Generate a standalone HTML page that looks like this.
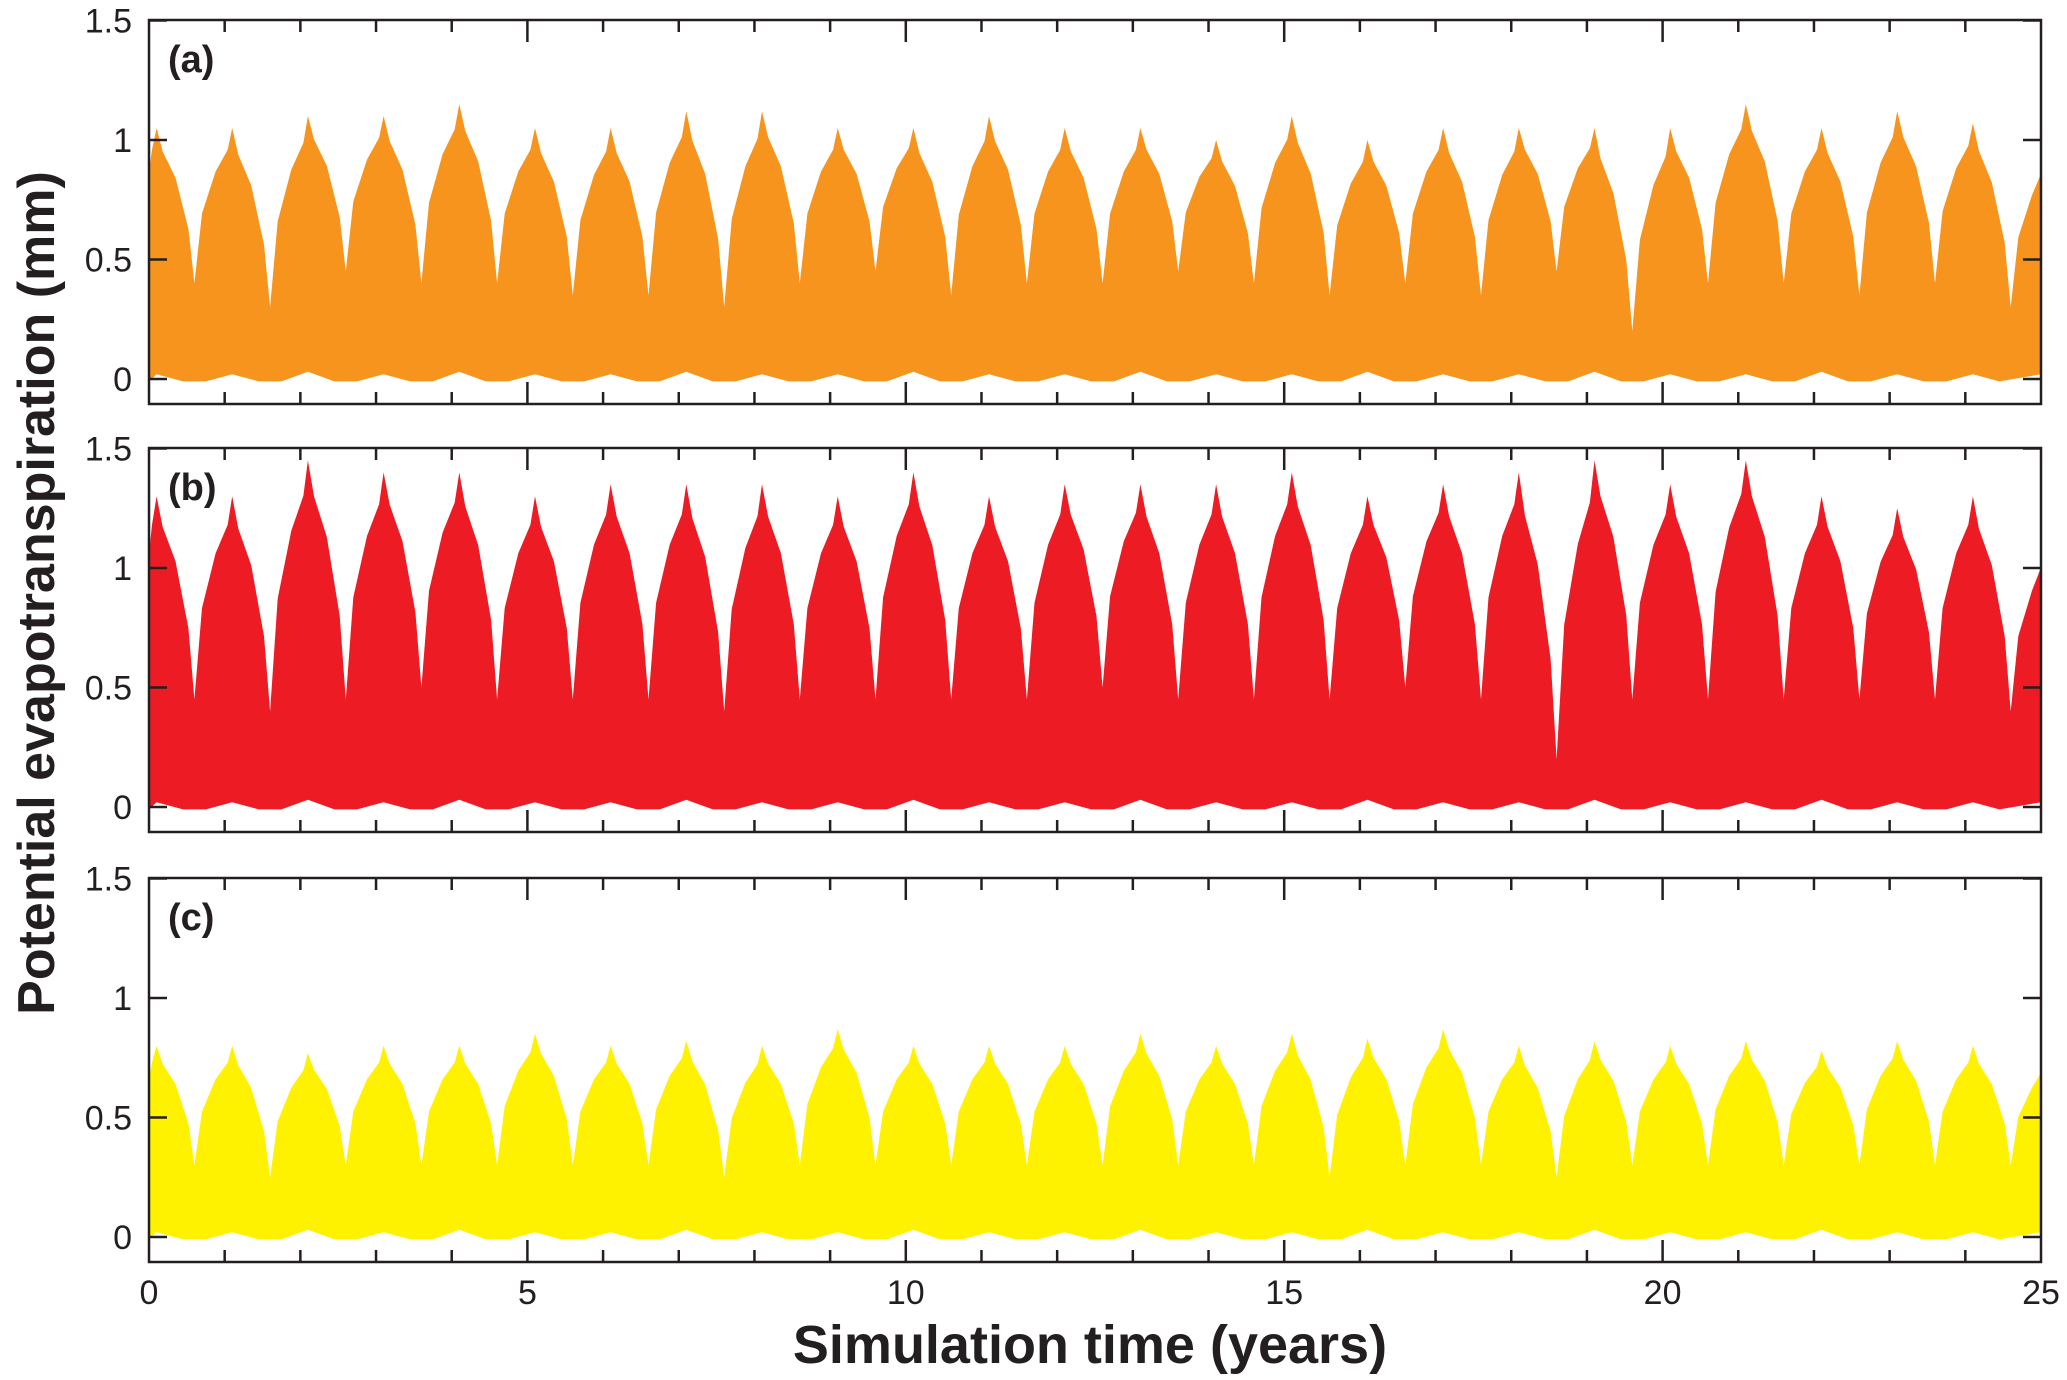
<!DOCTYPE html>
<html><head><meta charset="utf-8">
<style>
html,body{margin:0;padding:0;background:#fff;}
svg{display:block;font-family:"Liberation Sans",Arial,sans-serif;}
</style></head>
<body>
<svg id="chart" width="2067" height="1380" viewBox="0 0 2067 1380" xmlns="http://www.w3.org/2000/svg">
<text x="0" y="0" transform="translate(54,593) rotate(-90)" text-anchor="middle" font-size="52" font-weight="bold" fill="#231f20">Potential evapotranspiration (mm)</text>
<text x="1090" y="1363" text-anchor="middle" font-size="54" font-weight="bold" fill="#231f20">Simulation time (years)</text>
</svg>
<script>
// ---- data (per-year envelope) ----
const years = [0,1,2,3,4,5,6,7,8,9,10,11,12,13,14,15,16,17,18,19,20,21,22,23,24,25];
const peaksA = [1.05,1.05,1.1,1.1,1.15,1.05,1.05,1.12,1.12,1.05,1.05,1.1,1.05,1.05,1.0,1.1,1.0,1.05,1.05,1.05,1.05,1.15,1.05,1.12,1.07,0.95];
const troughsA = [0.4,0.3,0.45,0.4,0.4,0.35,0.35,0.3,0.4,0.45,0.35,0.4,0.4,0.45,0.4,0.35,0.4,0.35,0.45,0.2,0.4,0.4,0.35,0.4,0.3];
const peaksB = [1.3,1.3,1.45,1.4,1.4,1.3,1.35,1.35,1.35,1.3,1.4,1.3,1.35,1.35,1.35,1.4,1.3,1.35,1.4,1.45,1.35,1.45,1.3,1.25,1.3,1.1];
const troughsB = [0.45,0.4,0.45,0.5,0.45,0.45,0.45,0.4,0.45,0.45,0.45,0.45,0.5,0.45,0.45,0.45,0.5,0.45,0.2,0.45,0.45,0.45,0.45,0.45,0.4];
const peaksC = [0.8,0.8,0.77,0.8,0.8,0.85,0.8,0.82,0.8,0.87,0.8,0.8,0.8,0.85,0.8,0.85,0.83,0.87,0.8,0.82,0.8,0.82,0.78,0.82,0.8,0.75];
const troughsC = [0.3,0.25,0.3,0.3,0.3,0.3,0.3,0.25,0.3,0.3,0.3,0.3,0.3,0.3,0.3,0.25,0.3,0.3,0.25,0.3,0.3,0.3,0.3,0.3,0.3];
const lowPeak = [0.02,0.02,0.03,0.02,0.03,0.02,0.02,0.03,0.02,0.02,0.03,0.02,0.02,0.03,0.02,0.02,0.03,0.02,0.02,0.03,0.02,0.02,0.03,0.02,0.02,0.02];
const lowTrough = -0.01;
const xTickLabels = ["0","5","10","15","20","25"];
const yTickLabels = ["0","0.5","1","1.5"];
const yTickValues = [0,0.5,1,1.5];
const panelLabels = ["(a)","(b)","(c)"];
const panelColors = ["#f7941d","#ed1c24","#fff200"];

const NS = "http://www.w3.org/2000/svg";
const svg = document.getElementById('chart');
const L = 149, R = 2041;
const panelTops = [20, 448, 878];
const PH = 384, Y0OFF = 359;
const UNIT = 239;
const xScale = t => Math.max(L, Math.min(R, L + (R - L) * t / 25));
function mk(tag, attrs){const e=document.createElementNS(NS,tag);for(const k in attrs)e.setAttribute(k,attrs[k]);return e;}

const series = [[peaksA,troughsA],[peaksB,troughsB],[peaksC,troughsC]];
series.forEach((s, p) => {
  const top = panelTops[p];
  const yScale = v => top + Y0OFF - v * UNIT;
  const g = mk('g', {});
  
  
  svg.appendChild(g);
  const clip = mk('clipPath', {id: 'clip' + p});
  clip.appendChild(mk('rect', {x: L, y: top, width: R - L, height: PH}));
  g.appendChild(clip);
  const pk = s[0], tr = s[1];
  let up = [];
  for (let k = 0; k <= 25; k++) {
    const tPrev = k > 0 ? tr[k - 1] : tr[0];
    const tNext = k < 25 ? tr[k] : tr[24];
    const P = pk[k], c = years[k] + 0.1;
    up.push([xScale(c - 0.4), yScale(tPrev + 0.45 * (P - tPrev))]);
    up.push([xScale(c - 0.22), yScale(tPrev + 0.72 * (P - tPrev))]);
    up.push([xScale(c - 0.06), yScale(tPrev + 0.86 * (P - tPrev))]);
    up.push([xScale(c), yScale(P)]);
    up.push([xScale(c + 0.08), yScale(tNext + 0.85 * (P - tNext))]);
    up.push([xScale(c + 0.25), yScale(tNext + 0.68 * (P - tNext))]);
    up.push([xScale(c + 0.42), yScale(tNext + 0.35 * (P - tNext))]);
    if (k < 25) up.push([xScale(years[k] + 0.6), yScale(tNext)]);
  }
  up.unshift([xScale(0), yScale(pk[0])]);
  up.push([xScale(25), yScale(pk[25])]);
  let lo = [[xScale(25), yScale(lowPeak[25])]];
  for (let k = 24; k >= 0; k--) {
    lo.push([xScale(years[k] + 0.45), yScale(lowTrough)]);
    lo.push([xScale(years[k] + 0.1), yScale(lowPeak[k])]);
    lo.push([xScale(years[k] - 0.25), yScale(lowTrough)]);
  }
  lo.push([xScale(0), yScale(lowPeak[0])]);
  const pts = up.concat(lo).map(q => q[0].toFixed(1) + ',' + q[1].toFixed(1)).join(' ');
  const poly = mk('polygon', {points: pts, fill: panelColors[p], 'clip-path': 'url(#clip' + p + ')'});
  
  
  g.appendChild(poly);
  const box = mk('rect', {x: L, y: top, width: R - L, height: PH, fill: 'none', stroke: '#231f20', 'stroke-width': 2.5});
  
  
  g.appendChild(box);
  for (let t = 1; t < 25; t++) {
    const len = t % 5 === 0 ? 22 : 12;
    const x = xScale(t);
    const a = mk('line', {x1: x, x2: x, y1: top + PH, y2: top + PH - len, stroke: '#231f20', 'stroke-width': 2.5});
    
    
    g.appendChild(a);
    const b = mk('line', {x1: x, x2: x, y1: top, y2: top + len, stroke: '#231f20', 'stroke-width': 2.5});
    
    
    g.appendChild(b);
  }
  yTickValues.forEach((v, i) => {
    const y = yScale(v);
    const a = mk('line', {x1: L, x2: L + 18, y1: y, y2: y, stroke: '#231f20', 'stroke-width': 2.5});
    
    
    g.appendChild(a);
    const b = mk('line', {x1: R, x2: R - 18, y1: y, y2: y, stroke: '#231f20', 'stroke-width': 2.5});
    
    
    g.appendChild(b);
    const tx = mk('text', {x: L - 17, y: y + 12, 'text-anchor': 'end', 'font-size': 34, fill: '#231f20'});
    
    
    tx.textContent = yTickLabels[i];
    g.appendChild(tx);
  });
  const lab = mk('text', {x: 168, y: top + 52, 'font-size': 38, 'font-weight': 'bold', fill: '#231f20'});
  
  
  lab.textContent = panelLabels[p];
  g.appendChild(lab);
});
xTickLabels.forEach((s, i) => {
  const tx = mk('text', {x: xScale(i * 5), y: 1304, 'text-anchor': 'middle', 'font-size': 34, fill: '#231f20'});
  
  
  tx.textContent = s;
  svg.appendChild(tx);
});
</script>
</body></html>
